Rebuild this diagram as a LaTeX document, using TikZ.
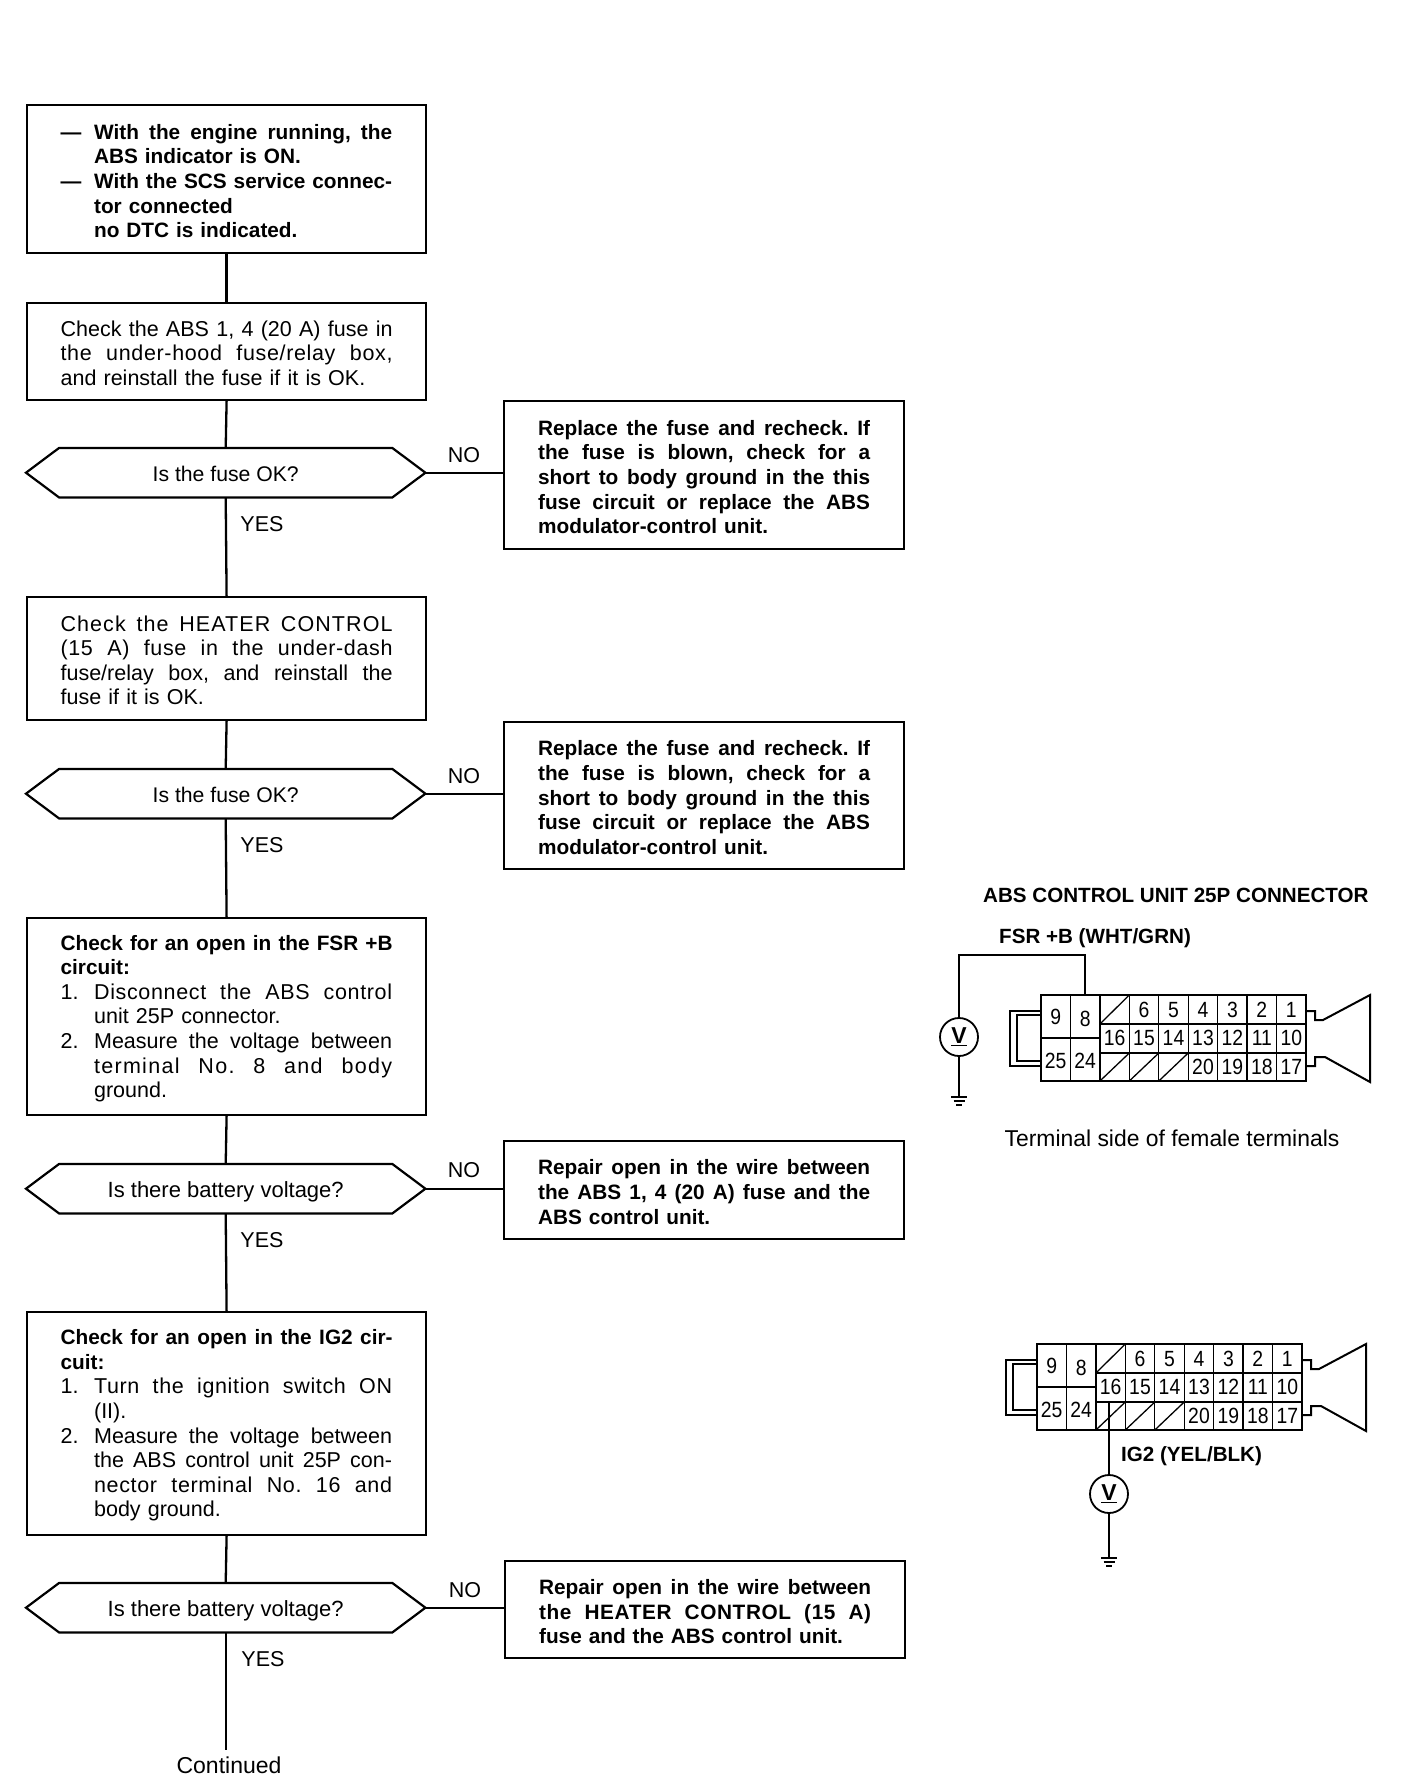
\documentclass[tikz,border=0pt]{standalone}
\usepackage{fontspec}
\usepackage{graphicx}
\setmainfont{Liberation Sans}
\usetikzlibrary{calc}
\newcommand{\nsp}{\spaceskip=0pt\xspaceskip=0pt\frenchspacing}
\newcommand{\fr}{\rule{0pt}{19pt}}
\newcommand{\jl}[1]{\makebox[\linewidth][s]{\nsp #1}}
\newcommand{\hj}[2]{\makebox[33.5pt][l]{#1}\makebox[298pt][s]{\nsp #2}}
\newcommand{\hn}[1]{\hspace*{33.5pt}#1}
\newcommand{\hm}[1]{\hspace*{33.5pt}\makebox[298pt][s]{\nsp #1}}
\newcommand{\lsp}[1]{\addfontfeature{LetterSpace=#1}}
\newcommand{\bfl}{\fontsize{20.8}{24.6}\selectfont\bfseries}
\newcommand{\hexframe}[1]{\draw[frame] (#1.west) -- ([xshift=33pt]#1.north west) -- ([xshift=-33pt]#1.north east) -- (#1.east) -- ([xshift=-33pt]#1.south east) -- ([xshift=33pt]#1.south west) -- cycle;}
\newcommand{\connbody}[1]{%
  \draw[pinline,line width=2pt] (0,0) rectangle (265,86);
  \foreach \cx in {29.4,58.9,88.3,117.8,147.2,176.7,206.1,235.6} \draw[pinline] (\cx,0) -- (\cx,86);
  \draw[pinline] (58.9,29) -- (265,29);
  \draw[pinline] (58.9,58) -- (265,58);
  \draw[pinline] (0,43) -- (58.9,43);
  \draw[pinline] (58.9,29) -- (88.3,0);
  \draw[pinline] (58.9,86) -- (88.3,58);
  \draw[pinline] (88.3,86) -- (117.8,58);
  \draw[pinline] (117.8,86) -- (147.2,58);
  \foreach \num/\cx/\cy in {9/14.7/22,8/44.2/24,25/14.7/66,24/44.2/66,6/103/15,5/132.5/15,4/162/15,3/191.4/15,2/220.8/15,1/250.3/15,16/73.6/43,15/103/43,14/132.5/43,13/162/43,12/191.4/43,11/220.8/43,10/250.3/43,20/162/72,19/191.4/72,18/220.8/72,17/250.3/72}
    \node[pin] (#1p\num) at (\cx,\cy) {\scalebox{.88}[1]{\num}};
  \draw[pinline,line width=2pt] (0,16) -- (-31,16) -- (-31,71) -- (0,71);
  \draw[pinline] (0,20) -- (-24,20) -- (-24,66) -- (0,66);
  \draw[pinline,line width=2pt] (265,16) -- (274,16) -- (274,25) -- (282,25) -- (329,0) -- (329,87) -- (284,62) -- (274,62) -- (274,71) -- (265,71);
}
\newcommand{\groundat}[1]{%
  \draw[wire] ($(#1)+(-8,0)$) -- ($(#1)+(8,0)$);
  \draw[pinline] ($(#1)+(-5.5,4)$) -- ($(#1)+(5.5,4)$);
  \draw[pinline] ($(#1)+(-3,8)$) -- ($(#1)+(3,8)$);
}
\tikzset{
  x=1pt,y=-1pt,
  frame/.style={draw=black,line width=2.2pt,line join=miter},
  box/.style={frame,rectangle,anchor=north west,minimum width=399pt,inner xsep=33.5pt,inner ysep=0pt,text width=332pt,align=left,font=\fontsize{21.5}{24.6}\selectfont},
  rbox/.style={box,inner xsep=34pt,minimum width=400pt,font=\bfl},
  hexa/.style={rectangle,anchor=north west,minimum width=399pt,minimum height=49pt,inner sep=0pt,text height=17pt,text depth=0pt,font=\fontsize{22}{24}\selectfont},
  conn/.style={draw=black,line width=2.3pt},
  lab/.style={inner sep=0pt,font=\fontsize{21.5}{24}\selectfont},
  blab/.style={inner sep=0pt,font=\fontsize{20.6}{24}\selectfont\bfseries},
  pin/.style={inner sep=0pt,font=\fontsize{22}{22}\selectfont},
  pinline/.style={draw=black,line width=1.3pt},
  wire/.style={draw=black,line width=2.4pt},
  meter/.style={draw=black,line width=1.8pt,circle,minimum size=38pt,inner sep=0pt,font=\fontsize{23}{24}\selectfont\bfseries},
}
\begin{document}
\begin{tikzpicture}
\fill[white] (0,0) rectangle (1408,1788);
\useasboundingbox (0,0) rectangle (1408,1788);

% left column
\node[box,minimum height=148pt,font=\bfl] (b1) at (26,104) {
 \fr\hj{---}{With the engine running, the}\\
 \hn{ABS indicator is ON.}\\
 \hj{---}{With the SCS service connec-}\\
 \hn{tor connected}\\
 \hn{no DTC is indicated.}};
\node[box,minimum height=97pt] (b2) at (26,302) {
 \fr\jl{Check the ABS 1, 4 (20 A) fuse in}\\
 \jl{\lsp{3}the under-hood fuse/relay box,}\\
 and reinstall the fuse if it is OK.};
\node[hexa,font=\fontsize{21.2}{24}\selectfont] (h1) at (26,448) {Is the fuse OK?};
\hexframe{h1}
\node[box,minimum height=123pt] (b3) at (26,596) {
 \fr\jl{\lsp{5}Check the HEATER CONTROL}\\
 \jl{\lsp{3}(15 A) fuse in the under-dash}\\
 \jl{fuse/relay box, and reinstall the}\\
 fuse if it is OK.};
\node[hexa,font=\fontsize{21.2}{24}\selectfont] (h2) at (26,769) {Is the fuse OK?};
\hexframe{h2}
\node[box,minimum height=197pt] (b4) at (26,917) {
 \fr\jl{\bfl Check for an open in the FSR +B}\\
 {\bfl circuit:}\\
 \hj{1.}{\lsp{3}Disconnect the ABS control}\\
 \hn{unit 25P connector.}\\
 \hj{2.}{Measure the voltage between}\\
 \hm{\lsp{6}terminal No. 8 and body}\\
 \hn{ground.}};
\node[hexa] (h3) at (26,1164) {Is there battery voltage?};
\hexframe{h3}
\node[box,minimum height=223pt] (b5) at (26,1311) {
 \fr\jl{\bfl Check for an open in the IG2 cir-}\\
 {\bfl cuit:}\\
 \hj{1.}{\lsp{3}Turn the ignition switch ON}\\
 \hn{(II).}\\
 \hj{2.}{Measure the voltage between}\\
 \hm{the ABS control unit 25P con-}\\
 \hm{\lsp{3}nector terminal No. 16 and}\\
 \hn{body ground.}};
\node[hexa] (h4) at (26,1583) {Is there battery voltage?};
\hexframe{h4}
\node[lab,anchor=center,font=\fontsize{23}{24}\selectfont] (cont) at (229,1765) {Continued};

% right column
\node[rbox,minimum height=148pt] (r1) at (503,400) {
 \fr\jl{Replace the fuse and recheck. If}\\
 \jl{the fuse is blown, check for a}\\
 \jl{short to body ground in the this}\\
 \jl{fuse circuit or replace the ABS}\\
 modulator-control unit.};
\node[rbox,minimum height=147pt] (r2) at (503,721) {
 \fr\jl{Replace the fuse and recheck. If}\\
 \jl{the fuse is blown, check for a}\\
 \jl{short to body ground in the this}\\
 \jl{fuse circuit or replace the ABS}\\
 modulator-control unit.};
\node[rbox,minimum height=98pt] (r3) at (503,1140) {
 \fr\jl{Repair open in the wire between}\\
 \jl{the ABS 1, 4 (20 A) fuse and the}\\
 ABS control unit.};
\node[rbox,minimum height=97pt] (r4) at (504,1560) {
 \fr\jl{Repair open in the wire between}\\
 \jl{\lsp{3}the HEATER CONTROL (15 A)}\\
 fuse and the ABS control unit.};

% vertical flow
\draw[conn] (b1.south) -- (b2.north);
\draw[conn] (b2.south) -- (h1.north);
\draw[conn] (h1.south) -- (b3.north);
\draw[conn] (b3.south) -- (h2.north);
\draw[conn] (h2.south) -- (b4.north);
\draw[conn] (b4.south) -- (h3.north);
\draw[conn] (h3.south) -- (b5.north);
\draw[conn] (b5.south) -- (h4.north);
\draw[conn] (h4.south) -- ([yshift=6pt]cont.north -| h4.south);

% NO branches
\draw[conn] (h1.east) -- (h1.east -| r1.west);
\draw[conn] (h2.east) -- (h2.east -| r2.west);
\draw[conn] (h3.east) -- (h3.east -| r3.west);
\draw[conn] (h4.east) -- (h4.east -| r4.west);

\node[lab] (no1) at (464,455) {NO};
\node[lab] (no2) at (464,776) {NO};
\node[lab] (no3) at (464,1170) {NO};
\node[lab] (no4) at (465,1590) {NO};
\node[lab] (yes1) at (262,524) {YES};
\node[lab] (yes2) at (262,845) {YES};
\node[lab] (yes3) at (262,1240) {YES};
\node[lab] (yes4) at (263,1659) {YES};

% connector 1
\node[blab,anchor=west] (t1) at (983,895) {ABS CONTROL UNIT 25P CONNECTOR};
\node[blab,anchor=west] (t2) at (999,938) {FSR +B (WHT/GRN)};
\begin{scope}[shift={(1041,995)}]
 \connbody{a}
\end{scope}
\node[meter] (m1) at (959,1037) {\underline{V}};
\coordinate (g1) at (959,1097);
\coordinate (a8top) at (1085,995);
\coordinate (a8bend) at (1085,955);
\draw[wire] (a8top) -- (a8bend) -- (a8bend -| m1.north) -- (m1.north);
\draw[wire] (m1.south) -- (g1);
\groundat{g1}
\node[lab,anchor=center,font=\fontsize{22.9}{24}\selectfont] (t3) at (1172,1138) {Terminal side of female terminals};

% connector 2
\begin{scope}[shift={(1037,1344)}]
 \connbody{c}
\end{scope}
\node[blab,anchor=west] (t4) at (1121,1456) {IG2 (YEL/BLK)};
\node[meter] (m2) at (1109,1494) {\underline{V}};
\coordinate (g2) at (1109,1558);
\coordinate (c16) at (1109,1402);
\draw[wire] (c16) -- (m2.north);
\draw[wire] (m2.south) -- (g2);
\groundat{g2}
\end{tikzpicture}
\end{document}
